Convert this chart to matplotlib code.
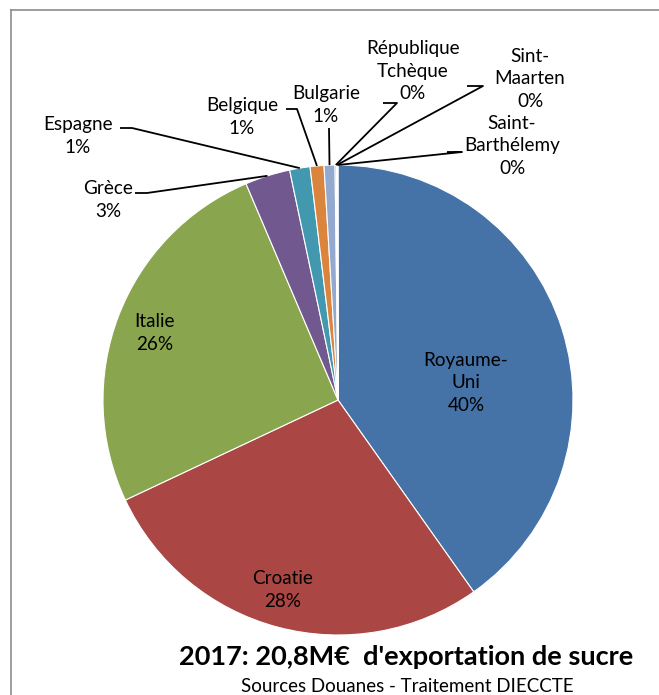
import numpy as np
import matplotlib.pyplot as plt
from matplotlib.lines import Line2D

plt.rcParams['font.family'] = ['Lato', 'DejaVu Sans']

# export shares (%), clockwise from 12 o'clock
countries = ["Royaume-\nUni", "Croatie", "Italie", "Grèce", "Espagne", "Belgique",
             "Bulgarie", "République\nTchèque", "Sint-\nMaarten", "Saint-\nBarthélemy"]
shares = [40.2, 27.8, 25.6, 3.1, 1.4, 0.95, 0.75, 0.1, 0.06, 0.04]
colors = ["#4572A7", "#AA4643", "#89A54E", "#71588F", "#4198AF",
          "#DB843D", "#93A9CF", "#D19392", "#B9CD96", "#A99BBD"]

title = "2017: 20,8M€  d'exportation de sucre"
source = "Sources Douanes - Traitement DIECCTE"

W, H = 659, 695
fig = plt.figure(figsize=(W / 100, H / 100), dpi=100)
ax = fig.add_axes([0, 0, 1, 1])


def Y(y):
    # image pixel row -> y-up data coordinate
    return H - y


cx, cy, R = 338, Y(400), 235

wedges, _ = ax.pie(shares, colors=colors, startangle=90, counterclock=False,
                   center=(cx, cy), radius=R, frame=True,
                   wedgeprops=dict(linewidth=0.8, edgecolor='white'))
ax.set_xlim(0, W)
ax.set_ylim(0, H)
ax.set_aspect('equal')
ax.axis('off')

fs = 13.6

# label centre and leader elbow points for each slice, in image pixels
label_pos = [(466, 383), (283, 590), (155, 333), (108, 200), (78, 136), (242, 117),
             (326, 105), (413, 71), (530, 79), (512, 146)]
elbows = [None, None, None, [(135, 193), (147, 193)], [(120, 128), (132, 128)],
          [(286, 109), (297, 109)], [(329, 128)], [(383, 103), (397, 103)],
          [(467, 86), (483, 86)], [(447, 152), (462, 152)]]

for w, name, val, pos, elb in zip(wedges, countries, shares, label_pos, elbows):
    txt = "%s\n%d%%" % (name, round(val))
    ax.text(pos[0], Y(pos[1]), txt, ha='center', va='center', fontsize=fs,
            linespacing=1.4, color='black')
    if elb is None:
        continue
    mid = np.deg2rad((w.theta1 + w.theta2) / 2)
    ex = cx + R * np.cos(mid)
    ey = cy + R * np.sin(mid)
    xs = [p[0] for p in elb] + [ex]
    ys = [Y(p[1]) for p in elb] + [ey]
    ax.plot(xs, ys, color='black', lw=1.3, solid_capstyle='butt')

ax.text(406, Y(657), title, ha='center', va='center', fontsize=19.5,
        fontweight='bold')
ax.text(407, Y(686), source, ha='center', va='center', fontsize=13.5)

# chart frame (right and bottom edges lie outside the crop)
fig.add_artist(Line2D([11 / W, 11 / W], [0, 1 - 10 / H], color='#8c8c8c', lw=1.2,
                      transform=fig.transFigure))
fig.add_artist(Line2D([11 / W, 1], [1 - 10 / H, 1 - 10 / H], color='#8c8c8c', lw=1.2,
                      transform=fig.transFigure))

fig.savefig("out.png", dpi=100)
